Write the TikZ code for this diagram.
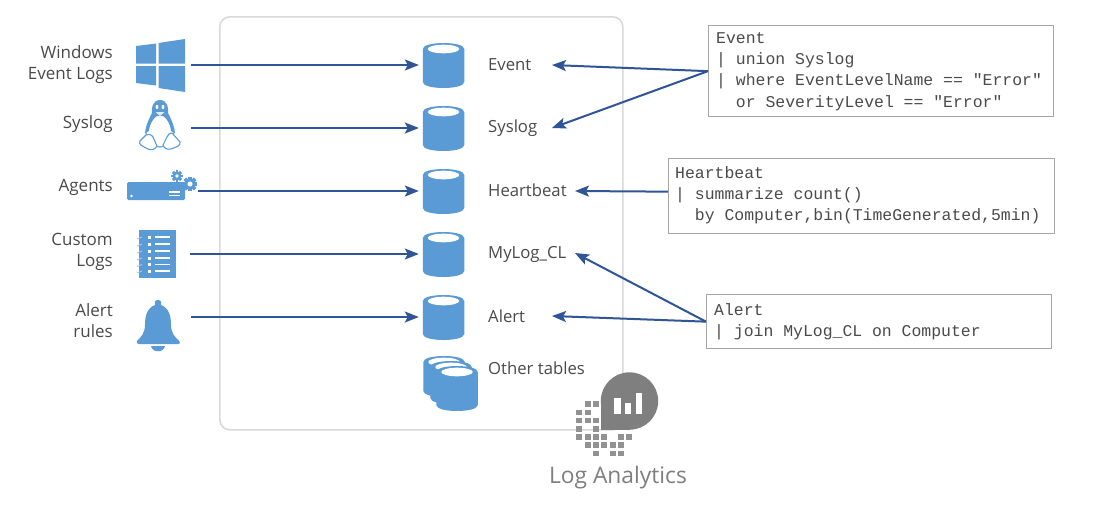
\documentclass[tikz,border=0pt]{standalone}
\usepackage{fontspec}
\setmainfont{Open Sans}
\setmonofont{Liberation Mono}
\usetikzlibrary{arrows.meta}
\definecolor{iconblue}{HTML}{5B9BD5}
\definecolor{arrowblue}{HTML}{2F5597}
\definecolor{labelgray}{HTML}{4A4A4A}
\definecolor{framegray}{HTML}{D9D9D9}
\definecolor{boxgray}{HTML}{A6A6A6}
\definecolor{logogray}{HTML}{7F7F7F}
\tikzset{
  x=1pt,y=-1pt,
  flow/.style={draw=arrowblue,line width=2pt,-{Stealth[length=14pt,width=11pt,inset=3pt]}},
  query/.style={flow},
  srclabel/.style={anchor=east,align=right,inner sep=0pt,text=labelgray,font=\fontsize{17}{21}\selectfont},
  tablabel/.style={anchor=west,inner sep=0pt,text=labelgray,font=\fontsize{16.7}{21}\selectfont},
  codebox/.style={draw=boxgray,line width=1.3pt,fill=white,anchor=north west,inner sep=0pt},
  codetext/.style={anchor=north west,inner sep=0pt,align=left,text=labelgray,font=\ttfamily\fontsize{16.45}{21.3}\selectfont},
  iconanchor/.style={inner sep=0pt,minimum width=#1,minimum height=10pt},
  dbtarget/.style={inner sep=0pt,minimum width=45pt,minimum height=44pt},
}
\newcommand{\dbicon}[4]{% x, y(top of body), width, height
  \fill[iconblue] (#1-#3/2,#2+6) -- (#1-#3/2,#2+#4-6)
     .. controls (#1-#3/2,#2+#4+2) and (#1+#3/2,#2+#4+2) .. (#1+#3/2,#2+#4-6)
     -- (#1+#3/2,#2+6)
     .. controls (#1+#3/2,#2-2) and (#1-#3/2,#2-2) .. cycle;
  \fill[white] (#1,#2+6) ellipse[x radius=#3/2-5,y radius=4.3];
}
\newcommand{\gearicon}[3]{% x,y,r
  \foreach \a in {0,45,...,315}{
    \fill[iconblue,rotate around={\a:(#1,#2)}] (#1-#3*.28,#2-#3*1.2) rectangle (#1+#3*.28,#2+#3*1.2);
  }
  \fill[iconblue] (#1,#2) circle[radius=#3*.95];
  \fill[white] (#1,#2) circle[radius=#3*.42];
}
\begin{document}
\begin{tikzpicture}
\useasboundingbox (0,0) rectangle (1108,520);
\fill[white] (0,0) rectangle (1108,520);

% workspace frame
\node[draw=framegray,line width=1.6pt,rounded corners=10pt,inner sep=0pt,minimum width=403pt,minimum height=413pt,anchor=north west] (frame) at (219,16) {};

% source labels
\node[srclabel] (lwin) at (113,65) {Windows\\Event Logs};
\node[srclabel] (lsys) at (113,124) {Syslog};
\node[srclabel] (lag) at (113,187) {Agents};
\node[srclabel] (lcus) at (113,251.5) {Custom\\Logs};
\node[srclabel] (lale) at (113,321) {Alert\\rules};

% windows icon
\fill[iconblue] (136,46) -- (156,43.5) -- (156,63.5) -- (136,63.5) -- cycle;
\fill[iconblue] (158.5,43) -- (185,39) -- (185,63.5) -- (158.5,63.5) -- cycle;
\fill[iconblue] (136,66) -- (156,66) -- (156,85.5) -- (136,83) -- cycle;
\fill[iconblue] (158.5,66) -- (185,66) -- (185,92) -- (158.5,88) -- cycle;
\node[iconanchor=6pt] (win) at (188,65) {};

% linux icon
\begin{scope}[draw=iconblue,line width=1.1pt]
  \draw[line width=1.4pt,draw=iconblue!80] (146,132) .. controls (148,143) and (154,147) .. (160,147)
     .. controls (166,147) and (172,143) .. (174,132);
  \fill[iconblue] (160,100) .. controls (153,100) and (151,108) .. (152,113)
     .. controls (150,117) and (146,124) .. (145,133)
     -- (149,131) .. controls (150,122) and (154,118) .. (157,116)
     -- (163,116) .. controls (166,118) and (170,122) .. (171,131)
     -- (175,133) .. controls (174,124) and (170,117) .. (168,113)
     .. controls (169,108) and (167,100) .. (160,100) -- cycle;
  \draw[fill=white] (146,135) -- (140,141) .. controls (138,145) and (143,146) .. (146,148)
     .. controls (150,151) and (155,150) .. (157,146) -- (153,137) .. controls (151,134) and (148,134) .. (146,135) -- cycle;
  \draw[fill=white] (172,133) -- (180,142) .. controls (181,146) and (176,147) .. (171,149)
     .. controls (167,150) and (164,148) .. (163,145) -- (167,137) .. controls (168,134) and (170,133) .. (172,133) -- cycle;
  \fill[white] (157,107) ellipse[x radius=1.4,y radius=2.2];
  \fill[white] (163,107) ellipse[x radius=1.4,y radius=2.2];
  \fill[white!80!iconblue] (155.5,112) -- (164.5,112) -- (160,116) -- cycle;
\end{scope}
\node[iconanchor=6pt] (tux) at (188,128) {};

% agents icon
\fill[iconblue,rounded corners=1.5pt] (127,182) rectangle (185,200);
\fill[white] (131.5,196) circle[radius=1.4];
\fill[white] (169,191) rectangle (180,192.5);
\fill[white] (169,194.5) rectangle (180,196);
\gearicon{177}{176}{4.6}
\gearicon{190}{184}{6}
\node[iconanchor=6pt] (agt) at (195,191) {};

% notebook icon
\fill[iconblue] (139,230) rectangle (176,278);
\foreach \yy in {237,244,251,258,264.5,271}{
  \fill[white] (147.5,\yy-1.5) rectangle (150.5,\yy+1.5);
  \fill[white] (155,\yy-.6) rectangle (170,\yy+.6);
  \draw[iconblue!55,line width=.9pt] (137,\yy+2) -- (142,\yy);
}
\node[iconanchor=6pt] (log) at (187,254) {};

% bell icon
\fill[iconblue] (158,300) .. controls (155,300) and (154,303) .. (155,305)
   .. controls (147,308) and (145,316) .. (145,325)
   .. controls (145,333) and (141,337) .. (137,341)
   .. controls (136,343) and (137,344) .. (139,344)
   -- (178,344) .. controls (180,344) and (181,343) .. (179,341)
   .. controls (175,337) and (171,333) .. (171,325)
   .. controls (171,316) and (169,308) .. (161,305)
   .. controls (162,303) and (161,300) .. (158,300) -- cycle;
\fill[iconblue] (151,346) .. controls (152,353) and (164,353) .. (165,346) -- cycle;
\node[iconanchor=6pt] (bell) at (188,317) {};

% tables
\dbicon{443.5}{43}{41.5}{45}
\dbicon{443.5}{106}{41.5}{45}
\dbicon{443.5}{169}{41.5}{45}
\dbicon{443.5}{232}{41.5}{45}
\dbicon{443.5}{295}{41.5}{45}
\node[dbtarget] (tevent) at (441.5,65) {};
\node[dbtarget] (tsys) at (441.5,128) {};
\node[dbtarget] (thb) at (441.5,191) {};
\node[dbtarget] (tlog) at (441.5,254) {};
\node[dbtarget] (talert) at (441.5,317) {};

% other tables
\dbicon{444}{356}{41.5}{41}
\dbicon{451}{361}{41.5}{43}
\dbicon{457}{366}{41.5}{45}
\node[dbtarget,minimum width=55pt,minimum height=54pt] (tother) at (450,384) {};

% table labels
\node[tablabel] (nevent) at (488,64.5) {Event};
\node[tablabel] (nsys) at (488,128) {Syslog};
\node[tablabel] (nhb) at (488,190.5) {Heartbeat};
\node[tablabel] (nlog) at (488,254) {MyLog\_CL};
\node[tablabel] (nalert) at (488,316.5) {Alert};
\node[tablabel] (nother) at (488,368.5) {Other tables};

\coordinate (ineventq) at (552,65);
\coordinate (insysq) at (552,128);
\coordinate (inhbq) at (575,191);
\coordinate (inlogq) at (575,253);
\coordinate (inalertq) at (552,316);

% code boxes
\node[codebox,minimum width=345pt,minimum height=91pt] (qevent) at (708,25) {};
\node[codetext] (tevq) at (716,32) {Event\\\textbar{} union Syslog\\\textbar{} where EventLevelName == "Error"\\\ \ or SeverityLevel == "Error"};
\node[codebox,minimum width=386pt,minimum height=75pt] (qhb) at (668,158) {};
\node[codetext] (thq) at (675,166) {Heartbeat\\\textbar{} summarize count()\\\ \ by Computer,bin(TimeGenerated,5min)};
\node[codebox,minimum width=345pt,minimum height=54pt] (qalert) at (706,294) {};
\node[codetext] (taq) at (714,303) {Alert\\\textbar{} join MyLog\_CL on Computer};

% connectors
\draw[flow] (win.east) -- (tevent.west);
\draw[flow] (tux.east) -- (tsys.west);
\draw[flow] (agt.east) -- (thb.west);
\draw[flow] (log.east) -- (tlog.west);
\draw[flow] (bell.east) -- (talert.west);
\draw[query] (qevent.west) -- (ineventq);
\draw[query] (qevent.west) -- (insysq);
\draw[query] ([yshift=4.5pt]qhb.west) -- (inhbq);
\draw[query] (qalert.west) -- (inlogq);
\draw[query] (qalert.west) -- (inalertq);

% logo
\foreach \r/\cols in {0/{1,2},1/{0,1},2/{0,1,2},3/{0,2},4/{0,1,2,3,5,6},5/{1,2,3,4,5},6/{2,4,5}}{
  \foreach \c in \cols {
    \fill[logogray!85] (576.4+\c*8.33,401.4+\r*8.2) rectangle ++(6,5.6);
  }
}
\fill[logogray] (629.5,401) circle[radius=28.7];
\fill[logogray] (600.8,401) rectangle (629.5,429.7);
\fill[white] (614,398) rectangle (620.5,414);
\fill[white] (625,403) rectangle (630.5,414);
\fill[white] (636,393) rectangle (642,414);
\node[inner sep=0pt,text=logogray,font=\fontsize{22.8}{26}\selectfont] (logotxt) at (618,478) {Log Analytics};
\end{tikzpicture}
\end{document}
